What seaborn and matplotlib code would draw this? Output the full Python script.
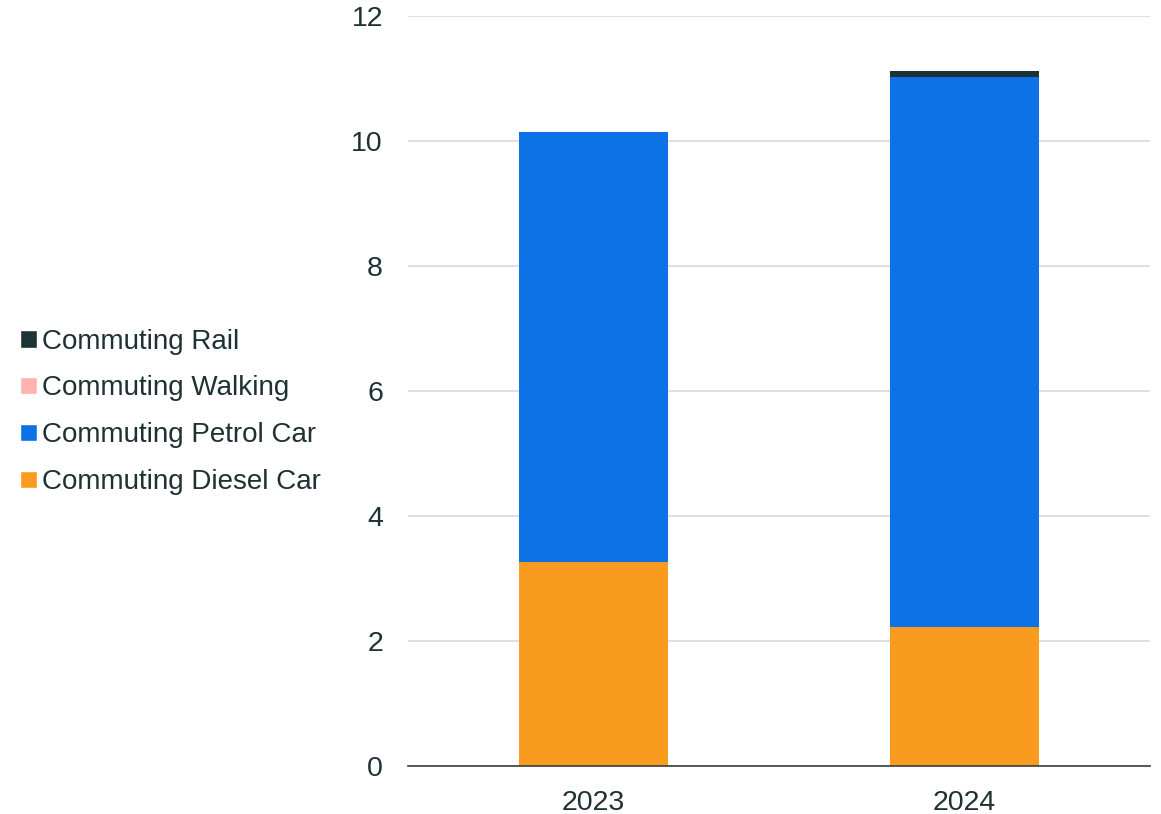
import matplotlib
matplotlib.use("Agg")
import matplotlib.pyplot as plt
import pandas as pd
import seaborn as sns
from matplotlib.patches import Patch

years = ['2023', '2024']
diesel = [3.26, 2.22]
petrol = [6.88, 8.80]
walking = [0.0, 0.0]
rail = [0.0, 0.10]

series = ['Commuting Diesel Car', 'Commuting Petrol Car', 'Commuting Walking', 'Commuting Rail']
colors = ['#f99b1e', '#0d72e6', '#ffb3b0', '#1e3336']
text_color = '#1f3133'

sns.set_theme(style='white')
plt.rcParams['font.family'] = ['Liberation Sans', 'DejaVu Sans']

df = pd.DataFrame({'Year': years, series[0]: diesel, series[1]: petrol,
                   series[2]: walking, series[3]: rail})

fig = plt.figure(figsize=(11.61, 8.14), dpi=100)
ax = fig.add_axes([0.3514, 0.059, 0.6391, 0.9213])

# stack the layers from the bottom up
bottom = [0.0] * len(years)
for name, col in zip(series, colors):
    sns.barplot(data=df, x='Year', y=name, color=col, width=0.4,
                bottom=bottom, ax=ax, saturation=1, linewidth=0, zorder=3)
    bottom = [b + v for b, v in zip(bottom, df[name])]

ax.set_xlim(-0.5, 1.5)
ax.set_ylim(0, 12)
ax.set_yticks([0, 2, 4, 6, 8, 10, 12])
ax.set_xlabel('')
ax.set_ylabel('')
ax.grid(axis='y', color='#d9d9d9', linewidth=1.2, zorder=0)
for s in ['left', 'right', 'top']:
    ax.spines[s].set_visible(False)
ax.spines['bottom'].set_color('#333f40')
ax.spines['bottom'].set_linewidth(1.2)
ax.spines['bottom'].set_zorder(4)
ax.tick_params(axis='both', length=0, labelsize=20.5, colors=text_color)
ax.tick_params(axis='y', pad=18)
ax.tick_params(axis='x', pad=17)

handles = [Patch(facecolor=c, label=n) for n, c in zip(series[::-1], colors[::-1])]
fig.legend(handles=handles, loc='center left', bbox_to_anchor=(0.0172, 0.494),
           frameon=False, fontsize=20, labelcolor=text_color,
           handlelength=0.6, handleheight=0.6, handletextpad=0.2,
           labelspacing=0.75, borderpad=0, borderaxespad=0)

fig.savefig('out.png', dpi=100)
